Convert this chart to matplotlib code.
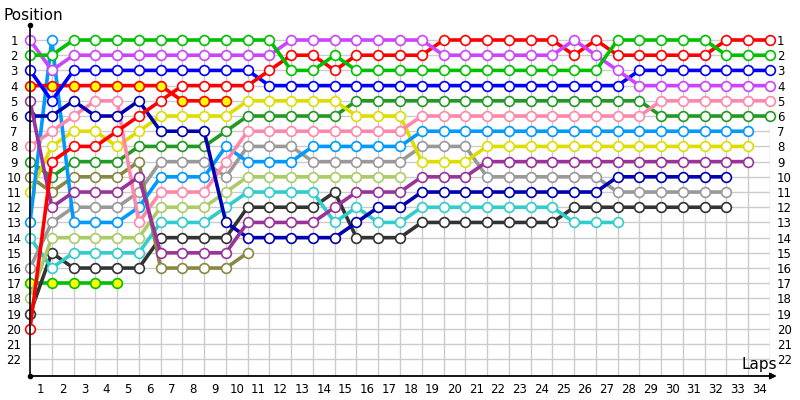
import matplotlib.pyplot as plt

# Position of each driver per lap, lap 0 = grid
green = [2, 2] + [1] * 10 + [3, 3, 2] + [3] * 12 + [1] * 5 + [2] * 3
violet = [1, 3] + [2] * 10 + [1] * 7 + [2] * 6 + [1, 2, 3] + [4] * 7
red = [20, 9, 8, 8, 7, 6, 5] + [4] * 4 + [3, 2, 2, 3] + [2] * 4 + [1] * 6 + [2, 1] + [2] * 5 + [1] * 3
blue = [3, 5] + [3] * 9 + [4] * 17 + [3] * 7
red_yellow = [4] * 7 + [5] * 3
dark_purple = [5, 12, 11, 11, 11, 10] + [15] * 4 + [13] * 4 + [12] + [11] * 3 + [10] * 3 + [9] * 13
navy = [6, 6, 5, 6, 6, 5, 7, 7, 7, 13] + [14] * 5 + [13, 12, 12] + [11] * 9 + [10] * 6
pink = [8, 7, 6, 5, 5, 13, 11, 11, 11, 9] + [7] * 8 + [6] * 11 + [5] * 6
sky = [13, 1, 13, 13, 13, 12, 10, 10, 10, 8, 9, 9, 9] + [8] * 5 + [7] * 16
yellow = [11, 8, 7, 7, 8, 7] + [6] * 4 + [5] * 5 + [6] * 3 + [9] * 3 + [8] * 13
dark_green = [9, 10, 9, 9, 9] + [8] * 4 + [7] + [6] * 5 + [5] * 14 + [6] * 6
olive = [10, 11, 10, 10, 10, 9] + [16] * 4 + [15]
gray = [16, 13, 12, 12, 12, 11, 9, 9, 9, 10] + [8] * 3 + [9] * 5 + [8] * 3 + [10] * 6 + [11] * 6
light_green = [18] + [14] * 5 + [12] * 3 + [11] + [10] * 8
teal = [14, 16] + [15] * 4 + [13] * 3 + [12] + [11] * 4 + [13, 12, 13, 13] + [12] * 7 + [13] * 3
dark_gray = [19, 15] + [16] * 4 + [14] * 4 + [12] * 4 + [11] + [14] * 3 + [13] * 7 + [12] * 8
green_yellow = [17] * 5

laps_total = 34
positions = list(range(1, 23))

drivers = [
    (green_yellow, '#00c000', '#ffff00'),
    (dark_gray, '#333333', 'white'),
    (teal, '#33cccc', 'white'),
    (light_green, '#aacc66', 'white'),
    (gray, '#999999', 'white'),
    (olive, '#888844', 'white'),
    (dark_green, '#229922', 'white'),
    (yellow, '#dddd00', 'white'),
    (sky, '#0099ff', 'white'),
    (pink, '#ff88aa', 'white'),
    (navy, '#0000b0', 'white'),
    (dark_purple, '#993399', 'white'),
    (red_yellow, '#ff0000', '#ffff00'),
    (blue, '#0000ff', 'white'),
    (red, '#ff0000', 'white'),
    (violet, '#cc44ff', 'white'),
    (green, '#00c000', 'white'),
]

plt.rcParams['font.family'] = 'DejaVu Sans'
fig = plt.figure(figsize=(8, 4), dpi=100)
ax = fig.add_axes([0.0375, 0.06, 0.925, 0.878])

# grid
ax.hlines(positions, 0, laps_total, color='#cccccc', lw=1, zorder=0)
ax.vlines(range(1, laps_total + 1), 0.6, 23.1, color='#cccccc', lw=1, zorder=0)

for pos, col, face in drivers:
    ax.plot(range(len(pos)), pos, color=col, lw=2.6, marker='o', ms=7,
            mfc=face, mec=col, mew=1.2, zorder=2, clip_on=False)

ax.set_xlim(0, laps_total)
ax.set_ylim(23.1, 0)

ax.set_xticks([k - 0.5 for k in range(1, laps_total + 1)])
ax.set_xticklabels([str(k) for k in range(1, laps_total + 1)])
ax.set_yticks(positions)
ax.set_yticklabels([str(p) for p in positions])
ax.tick_params(axis='x', length=0, pad=5, labelsize=8.5)
ax.tick_params(axis='y', length=0, pad=11.5, labelsize=8.5)
for lbl in ax.get_yticklabels():
    lbl.set_horizontalalignment('center')

# right-hand position labels
ax2 = ax.twinx()
ax2.set_ylim(23.1, 0)
ax2.set_yticks(positions)
ax2.set_yticklabels([str(p) for p in positions])
ax2.tick_params(axis='y', length=0, pad=5, labelsize=8.5)

for a in (ax, ax2):
    for s in ['top', 'right', 'bottom']:
        a.spines[s].set_visible(False)
ax2.spines['left'].set_visible(False)
ax.spines['left'].set_color('black')
ax.spines['left'].set_linewidth(1.2)

# axis arrows and dots
ax.annotate('', xy=(1.013, 0), xytext=(0, 0), xycoords='axes fraction',
            arrowprops=dict(arrowstyle='-|>', color='black', lw=1.3, mutation_scale=9),
            annotation_clip=False)
ax.plot([0, 0], [23.1, 0], 'o', color='black', ms=3, clip_on=False, zorder=5)

fig.text(0.004, 1 - 15 / 400, 'Position', va='center', ha='left', fontsize=11)
fig.text(759 / 800, 1 - 364 / 400, 'Laps', va='center', ha='center', fontsize=11)

fig.savefig('out.png', dpi=100)
